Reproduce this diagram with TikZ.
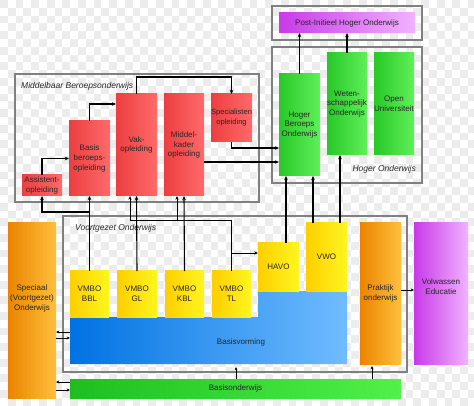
\documentclass[tikz,border=0pt]{standalone}
\usepackage{fontspec}
\setmainfont{Liberation Sans}
\usetikzlibrary{arrows.meta,calc}
\definecolor{redL}{RGB}{236,62,64}
\definecolor{redR}{RGB}{255,106,106}
\definecolor{greenL}{RGB}{40,200,40}
\definecolor{greenR}{RGB}{95,240,90}
\definecolor{yellowL}{RGB}{255,206,0}
\definecolor{yellowR}{RGB}{255,246,30}
\definecolor{orangeL}{RGB}{234,132,0}
\definecolor{orangeR}{RGB}{255,192,60}
\definecolor{purpleL}{RGB}{200,58,232}
\definecolor{purpleR}{RGB}{242,178,255}
\definecolor{blueL}{RGB}{0,114,226}
\definecolor{blueR}{RGB}{112,188,255}
\definecolor{boL}{RGB}{30,190,30}
\definecolor{boR}{RGB}{82,240,72}
\definecolor{checker}{RGB}{236,236,236}
\definecolor{framec}{RGB}{128,128,128}
\newcommand\bxf{\fontsize{8}{9.8}\selectfont}
\newcommand\lbf{\fontsize{8.5}{10}\selectfont\itshape}
\begin{document}
\begin{tikzpicture}[x=1pt,y=-1pt,
  box/.style={anchor=north west, inner sep=0pt, outer sep=0pt, align=center, font=\bxf, text=black!85},
  boxtext/.style={align=center, font=\bxf, text=black!85, inner sep=0pt},
  redbox/.style={box, left color=redL, right color=redR},
  greenbox/.style={box, left color=greenL, right color=greenR},
  yellowbox/.style={box, left color=yellowL, right color=yellowR},
  orangebox/.style={box, left color=orangeL, right color=orangeR},
  purplebox/.style={box, left color=purpleL, right color=purpleR},
  frame/.style={draw=framec, line width=1.1pt},
  framelabel/.style={font=\lbf, text=black!85, inner sep=0pt},
  arr/.style={-{Stealth[length=4.2pt,width=3.6pt]}, line width=1.1pt, black},
  tarr/.style={-{Stealth[length=3.8pt,width=3.2pt]}, line width=0.6pt, black},
  sarr/.style={-{Stealth[length=3.4pt,width=3pt]}, line width=0.9pt, black}]
\useasboundingbox (0,0) rectangle (474,406);
% background checkerboard
\begin{scope}
\clip (0,0) rectangle (474,406);
\fill[white] (0,0) rectangle (474,406);
\foreach \j in {0,...,52}{
  \pgfmathtruncatemacro\off{mod(\j,2)}
  \foreach \i in {0,2,...,62}{
    \fill[checker] ({(\i+\off)*7.8},{\j*7.8}) rectangle ++(7.8,7.8);
  }
}
\end{scope}
% frames
\draw[frame] (15,74) rectangle (259,202);
\draw[frame] (272,47) rectangle (422,183);
\draw[frame] (272,6) rectangle (422,40);
\draw[frame] (63,216) rectangle (407,372);
\node[framelabel, anchor=west] (mbolabel) at (21,86) {Middelbaar Beroepsonderwijs};
\node[framelabel, anchor=east] (holabel) at (416,169) {Hoger Onderwijs};
\node[framelabel, anchor=west] (volabel) at (75,228) {Voortgezet Onderwijs};
% MBO boxes
\node[redbox, minimum width=40pt, minimum height=21pt] (assist) at (22,175) {Assistent-\\opleiding};
\node[redbox, minimum width=41pt, minimum height=75pt] (basis) at (69,121) {Basis\\beroeps-\\opleiding};
\node[redbox, minimum width=41pt, minimum height=102pt] (vak) at (116,94) {Vak-\\opleiding};
\node[redbox, minimum width=40pt, minimum height=102pt] (mk) at (164,94) {Middel-\\kader\\opleiding};
\node[redbox, minimum width=41pt, minimum height=48pt, font=\fontsize{7.6}{10}\selectfont] (spec) at (211,94) {Specialisten\\opleiding};
% HO boxes
\node[greenbox, minimum width=41pt, minimum height=102pt] (hbo) at (279,74) {Hoger\\Beroeps\\Onderwijs};
\node[greenbox, minimum width=40pt, minimum height=102pt] (wo) at (327,53) {Weten-\\schappelijk\\Onderwijs};
\node[greenbox, minimum width=40pt, minimum height=102pt] (ou) at (374,53) {Open\\Universiteit};
\node[purplebox, minimum width=136pt, minimum height=20pt] (post) at (279,13) {Post-Initieel Hoger Onderwijs};
% left / right columns
\node[orangebox, minimum width=48pt, minimum height=175pt,
  label={[boxtext, yshift=12pt]center:{Speciaal\\(Voortgezet)\\Onderwijs}}] (spec2) at (8,223) {};
\node[orangebox, minimum width=41pt, minimum height=141pt] (prak) at (360,223) {Praktijk\\onderwijs};
\node[purplebox, minimum width=54pt, minimum height=141pt,
  label={[boxtext, yshift=7pt]center:{Volwassen\\Educatie}}] (vol) at (414,223) {};
% Basisvorming
\shade[left color=blueL, right color=blueR] (70,317) -- (258,317) -- (258,291) -- (347,291) -- (347,364) -- (70,364) -- cycle;
\node[anchor=north west, inner sep=0pt, outer sep=0pt, minimum width=277pt, minimum height=47pt] (bv) at (70,317) {};
\node[boxtext] (bvtext) at (241,342) {Basisvorming};
% VO boxes
\node[yellowbox, minimum width=39pt, minimum height=46pt] (bbl) at (70,271) {VMBO\\BBL};
\node[yellowbox, minimum width=40pt, minimum height=46pt] (gl) at (117,271) {VMBO\\GL};
\node[yellowbox, minimum width=39pt, minimum height=46pt] (kbl) at (165,271) {VMBO\\KBL};
\node[yellowbox, minimum width=39pt, minimum height=46pt] (tl) at (212,271) {VMBO\\TL};
\node[yellowbox, minimum width=41pt, minimum height=48pt] (havo) at (258,243) {HAVO};
\node[yellowbox, minimum width=41pt, minimum height=68pt] (vwo) at (306,223) {VWO};
% Basisonderwijs
\node[box, left color=boL, right color=boR, minimum width=331pt, minimum height=19pt] (bo) at (70,379) {Basisonderwijs};
% connectors inside MBO
\draw[arr] (assist.north) |- (basis.west);
\draw[arr] (basis.north) |- (vak.west |- 0,104);
\draw[arr] (vak.north) -- (vak.north |- 0,77) -| (spec.north);
\draw[arr] (spec.south) |- (hbo.west |- 0,148);
\draw[arr] (mk.east |- 0,162) -- (hbo.west |- 0,162);
% HO to post
\draw[arr] (hbo.north) -- (hbo.north |- post.south);
\draw[arr] (wo.north) -- (wo.north |- post.south);
% VMBO to MBO
\coordinate (bblj) at (bbl.north |- 0,212);
\draw[arr] (bbl.north) -- (basis.south);
\draw[arr] (bblj) -| (assist.south);
\draw[arr] (gl.north) -- (vak.south);
\draw[arr] (kbl.north) -- (mk.south);
\coordinate (tlj) at (tl.north |- 0,220);
\draw[tarr] (tl.north) -- (tlj) -| ([xshift=-6.5pt]vak.south);
\draw[tarr] (tlj -| 177,0) -- ([xshift=-7pt]mk.south);
\draw[tarr] (tl.north |- 0,253) -- (havo.west |- 0,253);
% HAVO / VWO to HO
\draw[arr] ([xshift=7.5pt]havo.north) -- ([xshift=7.5pt]havo.north |- hbo.south);
\draw[arr] ([xshift=-13.5pt]vwo.north) -- ([xshift=-13.5pt]vwo.north |- hbo.south);
\draw[arr] ([xshift=13.5pt]vwo.north) -- ([xshift=13.5pt]vwo.north |- wo.south);
% Praktijk to Volwassen
\draw[sarr] (prak.east |- 0,290) -- (vol.west |- 0,290);
% Speciaal links
\draw[sarr] (bv.west |- 0,332) -- (spec2.east |- 0,332);
\draw[sarr] (spec2.east |- 0,338) -- (bv.west |- 0,338);
\draw[sarr] (bo.west |- 0,382) -- (spec2.east |- 0,382);
\draw[sarr] (spec2.east |- 0,390) -- (bo.west |- 0,390);
% Basisonderwijs up
\draw[sarr, shorten >=3pt] (bo.north -| 236,0) -- (bv.south -| 236,0);
\draw[sarr, shorten >=2pt] ([xshift=-8.5pt]bo.north -| prak.south) -- ([xshift=-8.5pt]prak.south);
\end{tikzpicture}
\end{document}
